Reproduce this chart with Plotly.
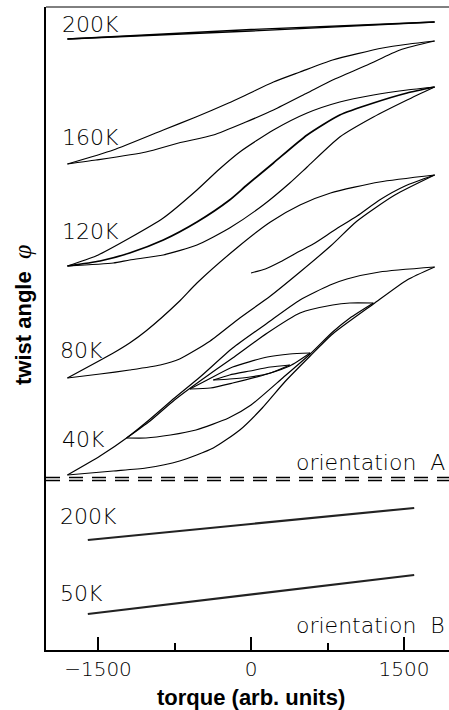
import plotly.graph_objects as go

# ---------------- data (torque in arb. units, twist angle phi in arb. units) ----------------
# orientation A, 200K (very thin loop)
t200A_up = [-1800, 0, 1800]
p200A_up = [611, 620.5, 628]
t200A_dn = [-1800, 0, 1800]
p200A_dn = [611, 619, 628]

# 160K loop
t160_up = [-1800, -1350, -860, -540, -220, -50, 220, 480, 800, 1290, 1550, 1800]
p160_up = [486, 500, 520, 533, 547, 555, 568, 578, 590, 602, 606, 609]
t160_dn = [-1800, -1520, -1030, -710, -370, -50, 220, 550, 800, 1140, 1460, 1800]
p160_dn = [486, 490, 498, 507, 515, 528, 540, 557, 570, 585, 600, 609]

# 120K curves
t120_a = [-1800, -1520, -1190, -860, -530, -320, -110, 220, 550, 870, 1200, 1530, 1800]
p120_a = [384, 394, 412, 432, 460, 480, 498, 520, 537, 548, 555, 560, 563]
t120_b = [-1800, -1480, -1190, -860, -530, -210, -40, 220, 550, 870, 1200, 1530, 1800]
p120_b = [384, 389, 397, 410, 428, 450, 465, 487, 515, 535, 547, 557, 563]
t120_c = [-1800, -1350, -1190, -860, -530, -210, 120, 380, 550, 870, 1200, 1530, 1800]
p120_c = [384, 387, 390, 395, 405, 422, 445, 467, 483, 513, 533, 550, 563]

# branch starting at zero torque
t_zero = [0, 140, 284, 480, 610, 820, 1040, 1260, 1510, 1800]
p_zero = [377, 381, 388, 399, 406, 420, 434, 450, 464, 475]

# 80K loop
t80_up = [-1800, -1350, -1190, -1030, -710, -530, -140, 190, 480, 780, 1260, 1800]
p80_up = [272, 297, 307, 319, 348, 367, 402, 428, 445, 457, 468, 475]
t80_dn = [-1800, -1480, -1190, -890, -700, -400, -110, 190, 480, 780, 1040, 1410, 1800]
p80_dn = [272, 276, 280, 285, 291, 309, 332, 354, 378, 404, 429, 455, 475]

# 40K main loop and nested minor loops
t40_up = [1800, 1260, 940, 775, 480, 160, -180, -500, -750, -1000, -1220, -1480, -1800]
p40_up = [383, 378, 371, 365, 350, 327, 302, 273, 252, 230, 212, 194, 175]
t40_dn = [-1800, -1350, -1030, -700, -370, -110, 110, 330, 580, 800, 1200, 1530, 1800]
p40_dn = [175, 179, 182, 189, 202, 220, 242, 268, 294, 316, 346, 370, 383]
t40_2dn = [-1220, -1030, -790, -540, -220, 0, 310, 580, 800, 970, 1200]
p40_2dn = [212, 212, 215, 220, 232, 245, 272, 296, 318, 332, 347]
t40_2up = [1200, 970, 800, 480, 160, -180, -500, -750, -990, -1220]
p40_2up = [347, 347, 345, 337, 317, 292, 269, 250, 229, 212]
t40_3up = [580, 380, 160, -180, -430, -600]
p40_3up = [297, 296, 293, 283, 270, 261]
t40_3dn = [-600, -400, -180, 160, 380, 580]
p40_3dn = [261, 262, 267, 276, 284, 297]
t40_4up = [380, 190, -10, -210, -370]
p40_4up = [285, 283, 279, 275, 270]
t40_4dn = [-370, -210, -10, 190, 380]
p40_4dn = [270, 271, 273, 277, 285]

# orientation B
tB200 = [-1600, 1600]
pB200 = [110, 142]
tB50 = [-1600, 1600]
pB50 = [36, 75]

# separator (double dashed line) levels
sep_levels = [172.5, 169.5]

# labels
lab_text = ["200K", "160K", "120K", "80K", "40K", "200K", "50K"]
lab_t = [-1875, -1875, -1875, -1890, -1875, -1890, -1890]
lab_p = [626, 513, 419, 300, 211, 134, 57]
orient_text = ["orientation  A", "orientation  B"]
orient_p = [188, 25]

x_tick_vals = [-1500, 0, 1500]
x_tick_text = ["\u22121500", "0", "1500"]
x_minor_vals = [-750, 750]

X_RANGE = [-2010, 1941]
Y_RANGE = [0, 643]

# ---------------- figure ----------------
fig = go.Figure()


def add(t, p, w=1.2, color="black", smooth=0.6):
    fig.add_trace(go.Scatter(
        x=t, y=p, mode="lines",
        line=dict(color=color, width=w, shape="spline", smoothing=smooth),
        hoverinfo="skip", showlegend=False))


add(t200A_up, p200A_up, 1.3)
add(t200A_dn, p200A_dn, 1.3)
add(t160_up, p160_up)
add(t160_dn, p160_dn)
add(t120_a, p120_a)
add(t120_b, p120_b, 1.7)
add(t120_c, p120_c)
add(t_zero, p_zero)
add(t80_up, p80_up)
add(t80_dn, p80_dn)
add(t40_up, p40_up)
add(t40_dn, p40_dn)
add(t40_2dn, p40_2dn)
add(t40_2up, p40_2up)
add(t40_3up, p40_3up)
add(t40_3dn, p40_3dn)
add(t40_4up, p40_4up)
add(t40_4dn, p40_4dn)
add(tB200, pB200, 2.2, "#222")
add(tB50, pB50, 2.2, "#222")

shapes = []
for lv in sep_levels:
    shapes.append(dict(type="line", xref="paper", x0=0, x1=1, yref="y", y0=lv, y1=lv,
                       line=dict(color="black", width=1.6, dash="14px,9px")))
shapes.append(dict(type="line", xref="paper", x0=0, x1=1, yref="paper", y0=1, y1=1,
                   line=dict(color="black", width=1)))

lab_font = dict(family="DejaVu Sans", size=22, color="black", weight=300)
annotations = []
for txt, t, p in zip(lab_text, lab_t, lab_p):
    annotations.append(dict(x=t, y=p, xref="x", yref="y", text=txt, showarrow=False,
                            xanchor="left", yanchor="middle", font=lab_font))
for txt, p in zip(orient_text, orient_p):
    annotations.append(dict(x=1920, y=p, xref="x", yref="y", text=txt, showarrow=False,
                            xanchor="right", yanchor="middle", font=lab_font))

title_font = dict(family="Liberation Sans", size=22, color="black", weight="bold")
annotations.append(dict(x=(251 - 46) / 403, y=-(697 - 650) / 643, xref="paper", yref="paper",
                        text="torque (arb. units)", showarrow=False,
                        xanchor="center", yanchor="middle", font=title_font))
annotations.append(dict(x=(22 - 46) / 403, y=(650 - 315) / 643, xref="paper", yref="paper",
                        text="twist angle\u00a0\u00a0<span style='font-family:Liberation Serif;font-weight:normal;font-size:26px'><i>\u03c6</i></span>",
                        showarrow=False, textangle=-90,
                        xanchor="center", yanchor="middle", font=title_font))

fig.update_layout(
    width=449, height=710,
    margin=dict(l=46, r=0, t=7, b=60),
    paper_bgcolor="white", plot_bgcolor="white",
    showlegend=False,
    shapes=shapes, annotations=annotations,
)
fig.update_xaxes(
    range=X_RANGE, showline=True, linewidth=2, linecolor="black",
    ticks="inside", ticklen=13, tickwidth=1.5, tickcolor="black",
    tickmode="array", tickvals=x_tick_vals, ticktext=x_tick_text,
    tickfont=dict(family="DejaVu Sans", size=20, color="black", weight=300),
    showgrid=False, zeroline=False,
    minor=dict(tickmode="array", tickvals=x_minor_vals, ticks="inside", ticklen=7,
               tickwidth=1.5, tickcolor="black", showgrid=False),
)
fig.update_yaxes(
    range=Y_RANGE, showline=True, linewidth=1.5, linecolor="black",
    showticklabels=False, ticks="", showgrid=False, zeroline=False,
)

fig.write_html(
    "out.html",
    config={"displayModeBar": False},
    post_script="document.body.style.margin='0px';document.body.style.overflow='hidden';",
)
